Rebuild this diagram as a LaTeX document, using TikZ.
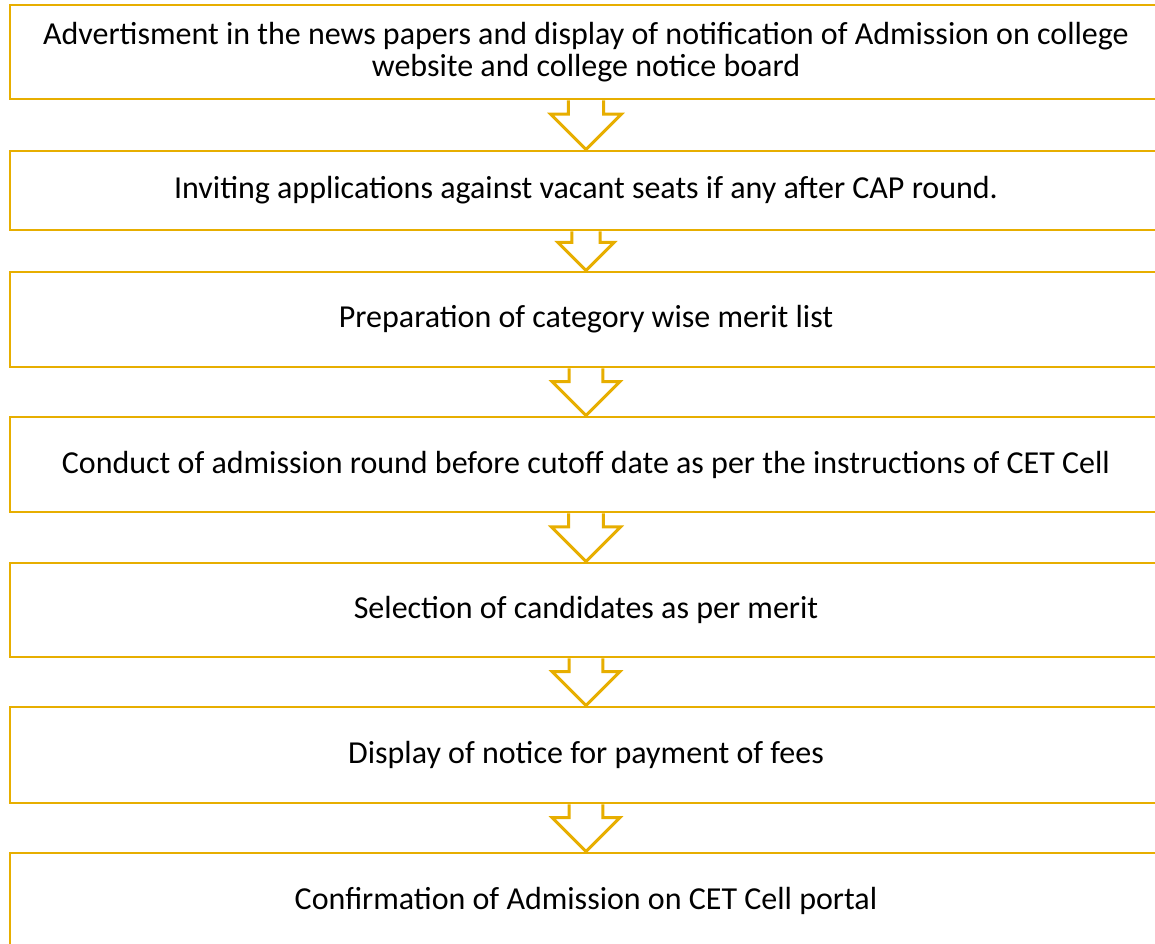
\documentclass[tikz,border=0pt]{standalone}
\usepackage{fontspec}
\setmainfont{Carlito}
\usepackage{tikz}
\usetikzlibrary{calc}
\definecolor{gold}{RGB}{231,174,0}

\begin{document}
\begin{tikzpicture}[x=0.75pt,y=-0.75pt,
    stepbox/.style={draw=gold,line width=2.2pt,fill=white,inner sep=0pt,
      minimum width=864pt,align=center,
      font=\fontsize{24}{24}\selectfont},
    flowarrow/.style={draw=gold,line width=2.2pt,fill=white,line join=miter}]
    \useasboundingbox (0,0) rectangle (1155,944);
    \node[stepbox,minimum height=70.5pt] (b1) at (586,52)
      {Advertisment in the news papers and display of notification of Admission on college\\website and college notice board};
    \node[stepbox,minimum height=59.25pt] (b2) at (586,190.5)
      {Inviting applications against vacant seats if any after CAP round.};
    \node[stepbox,minimum height=71.25pt] (b3) at (586,319.5)
      {Preparation of category wise merit list};
    \node[stepbox,minimum height=71.25pt] (b4) at (586,464.5)
      {Conduct of admission round before cutoff date as per the instructions of CET Cell};
    \node[stepbox,minimum height=70.5pt] (b5) at (586,610)
      {Selection of candidates as per merit};
    \node[stepbox,minimum height=72pt] (b6) at (586,755)
      {Display of notice for payment of fees};
    \node[stepbox,minimum height=71.25pt] (b7) at (586,900.5)
      {Confirmation of Admission on CET Cell portal};
    % hollow arrows between the steps
    \foreach \a/\b in {b1/b2,b2/b3,b3/b4,b4/b5,b5/b6,b6/b7}
      \draw[flowarrow] let \p1=(\a.south), \p2=(\b.north), \n1={\y1-\y2} in
        (\x1-0.36*\n1,\y1) -- (\x1-0.36*\n1,\y1-0.28*\n1) -- (\x1-0.72*\n1,\y1-0.28*\n1)
        -- (\x1,\y2) -- (\x1+0.72*\n1,\y1-0.28*\n1) -- (\x1+0.36*\n1,\y1-0.28*\n1)
        -- (\x1+0.36*\n1,\y1);
  \end{tikzpicture}
\end{document}
